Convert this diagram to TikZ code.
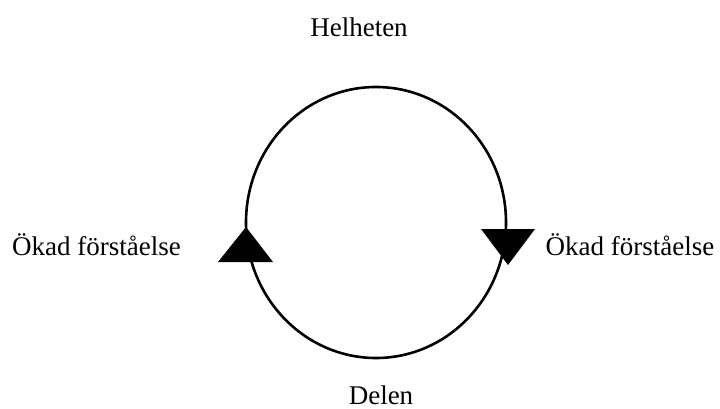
\documentclass[tikz,border=0pt]{standalone}
\usepackage{fontspec}
\setmainfont{Liberation Serif}
\begin{document}
\begin{tikzpicture}[x=1pt,y=-1pt,
  lbl/.style={anchor=base,inner sep=0pt,text depth=0pt,font=\fontsize{27}{32}\selectfont},
  ring/.style={draw=black,line width=2.6pt},
  tri/.style={fill=black,draw=none}]
\useasboundingbox (0,0) rectangle (720,409);
\draw[ring] (376,222.5) ellipse [x radius=130, y radius=135.5];
\fill[tri] (246,227) -- (273,262) -- (218,262) -- cycle;
\fill[tri] (481,229) -- (535,229) -- (508,265) -- cycle;
\node[lbl] (top) at (359,37) {Helheten};
\node[lbl] (bot) at (381,404) {Delen};
\node[lbl] (left) at (96.5,255) {Ökad förståelse};
\node[lbl] (right) at (630,255) {Ökad förståelse};
\end{tikzpicture}
\end{document}
